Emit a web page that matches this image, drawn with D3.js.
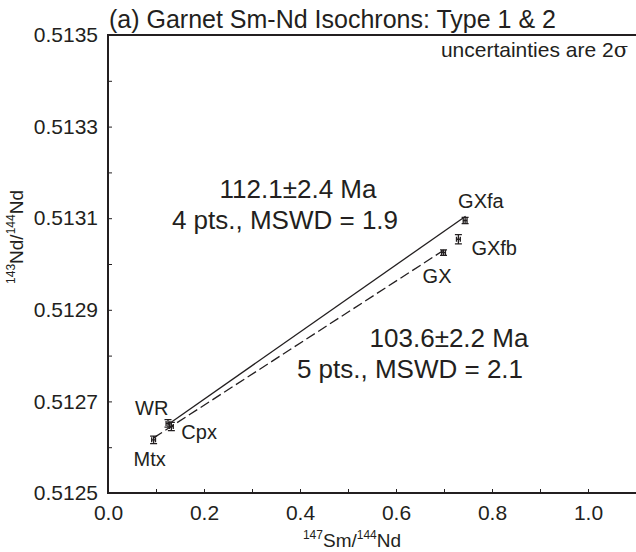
<!DOCTYPE html>
<html>
<head>
<meta charset="utf-8">
<script src="https://cdn.jsdelivr.net/npm/d3@7"></script>
<style>
  body { margin: 0; background: #fff; }
  text { font-family: "Liberation Sans", Arial, sans-serif; fill: #231f20; }
</style>
</head>
<body>
<div id="chart-area"></div>
<script>
// fractions measured on the garnet sample
var names = ["Mtx", "WR", "Cpx", "GX", "GXfb", "GXfa"];
var smNd  = [0.095, 0.125, 0.132, 0.699, 0.730, 0.744];
var ndNd  = [0.512616, 0.512652, 0.512645, 0.513025, 0.513054, 0.513095];
var errX  = [0.004, 0.004, 0.004, 0.004, 0.004, 0.004];
var errY  = [0.000008, 0.000008, 0.000009, 0.000006, 0.000010, 0.000007];

// isochron fits (solid = type 1, dashed = type 2)
var isoAge   = [112.1, 103.6];
var isoErr   = [2.4, 2.2];
var isoPts   = [4, 5];
var isoMswd  = [1.9, 2.1];
var isoInit  = [0.512558, 0.512556];
var isoFrom  = [0.125, 0.095];
var isoTo    = [0.745, 0.700];

var xTicks = [0.0, 0.2, 0.4, 0.6, 0.8, 1.0];
var xMinor = [0.1, 0.3, 0.5, 0.7, 0.9, 1.1];
var yTicks = [0.5125, 0.5127, 0.5129, 0.5131, 0.5133, 0.5135];
var yMinor = [0.5126, 0.5128, 0.5130, 0.5132, 0.5134];

var lambda = 6.54e-12; // 147Sm decay constant, 1/yr

var width = 636, height = 552;
var margin = { left: 108, top: 35, bottom: 59 };

var svg = d3.select("#chart-area")
    .append("svg")
    .attr("width", width)
    .attr("height", height);

var x = d3.scaleLinear().domain([0, 1.2]).range([margin.left, margin.left + 576]);
var y = d3.scaleLinear().domain([0.5125, 0.5135]).range([height - margin.bottom, margin.top]);

// axes with inward ticks
var xAxis = d3.axisBottom(x).tickValues(xTicks.concat(xMinor))
    .tickSize(-4).tickPadding(12)
    .tickFormat(function(d) { return xTicks.indexOf(d) >= 0 ? d3.format(".1f")(d) : ""; });
var yAxis = d3.axisLeft(y).tickValues(yTicks.concat(yMinor))
    .tickSize(-4).tickPadding(10)
    .tickFormat(function(d) { return yTicks.indexOf(d) >= 0 ? d3.format(".4f")(d) : ""; });

var gx = svg.append("g").attr("transform", "translate(0," + y(0.5125) + ")").call(xAxis);
var gy = svg.append("g").attr("transform", "translate(" + x(0) + ",0)").call(yAxis);
[gx, gy].forEach(function(g) {
    g.select(".domain").remove();
    g.selectAll(".tick line").attr("stroke", "#231f20").attr("stroke-width", 1);
    g.selectAll(".tick text").attr("font-size", 21).attr("fill", "#231f20")
        .style("font-family", "'Liberation Sans', Arial, sans-serif");
});

// frame: left, bottom, top
svg.append("path")
    .attr("d", "M" + x(1.2) + "," + y(0.5135) + "H" + x(0) + "V" + y(0.5125) + "H" + x(1.2))
    .attr("fill", "none").attr("stroke", "#231f20").attr("stroke-width", 2);

// isochron lines
isoAge.forEach(function(age, i) {
    var slope = Math.expm1(lambda * age * 1e6);
    svg.append("line")
        .attr("x1", x(isoFrom[i])).attr("y1", y(isoInit[i] + slope * isoFrom[i]))
        .attr("x2", x(isoTo[i])).attr("y2", y(isoInit[i] + slope * isoTo[i]))
        .attr("stroke", "#231f20").attr("stroke-width", 1.3)
        .attr("stroke-dasharray", i === 1 ? "10,4" : null);
});

// error bars
var pts = names.map(function(n, i) {
    return { name: n, x: smNd[i], y: ndNd[i], ex: errX[i], ey: errY[i] };
});
svg.append("g").attr("stroke", "#231f20").attr("stroke-width", 1.3).attr("fill", "none")
    .selectAll("path").data(pts).enter().append("path")
    .attr("d", function(d) {
        var cx = x(d.x), cy = y(d.y);
        var y0 = y(d.y - d.ey), y1 = y(d.y + d.ey);
        var x0 = x(d.x - d.ex), x1 = x(d.x + d.ex);
        return "M" + cx + "," + y0 + "V" + y1 +
            "M" + (cx - 3.5) + "," + y0 + "h7" +
            "M" + (cx - 3.5) + "," + y1 + "h7" +
            "M" + x0 + "," + cy + "H" + x1 +
            "M" + x0 + "," + (cy - 2.5) + "v5" +
            "M" + x1 + "," + (cy - 2.5) + "v5";
    });

// point labels
var labelPos = {
    Mtx:  { dx: -20, dy: 26, anchor: "start" },
    WR:   { dx: -33, dy: -8, anchor: "start" },
    Cpx:  { dx: 10, dy: 12, anchor: "start" },
    GX:   { dx: 8, dy: 30, anchor: "end" },
    GXfb: { dx: 13, dy: 16, anchor: "start" },
    GXfa: { dx: -7, dy: -12, anchor: "start" }
};
svg.append("g").selectAll("text").data(pts).enter().append("text")
    .attr("x", function(d) { return x(d.x) + labelPos[d.name].dx; })
    .attr("y", function(d) { return y(d.y) + labelPos[d.name].dy; })
    .attr("text-anchor", function(d) { return labelPos[d.name].anchor; })
    .attr("font-size", 20)
    .text(function(d) { return d.name; });

// age annotations
var ageAt = [[298, 198, 285], [449, 347, 410]];
isoAge.forEach(function(age, i) {
    var t = svg.append("text").attr("text-anchor", "middle").attr("font-size", 26);
    t.append("tspan").attr("x", ageAt[i][0]).attr("y", ageAt[i][1])
        .text(age.toFixed(1) + "\u00b1" + isoErr[i].toFixed(1) + " Ma");
    t.append("tspan").attr("x", ageAt[i][2]).attr("dy", 31)
        .text(isoPts[i] + " pts., MSWD = " + isoMswd[i].toFixed(1));
});

// title and notes
svg.append("text").attr("x", 109).attr("y", 28).attr("font-size", 25)
    .text("(a) Garnet Sm-Nd Isochrons: Type 1 & 2");
var unc = svg.append("text").attr("x", 628).attr("y", 57).attr("text-anchor", "end").attr("font-size", 21)
    .text("uncertainties are 2");
unc.append("tspan").style("font-family", "'DejaVu Serif', serif").text("\u03c3");

// axis titles
var xt = svg.append("text").attr("x", 352).attr("y", 547).attr("text-anchor", "middle").attr("font-size", 19);
xt.append("tspan").attr("font-size", 12).attr("dy", -8).text("147");
xt.append("tspan").attr("dy", 8).text("Sm/");
xt.append("tspan").attr("font-size", 12).attr("dy", -8).text("144");
xt.append("tspan").attr("dy", 8).text("Nd");

var yt = svg.append("text").attr("transform", "translate(23,237) rotate(-90)")
    .attr("text-anchor", "middle").attr("font-size", 19);
yt.append("tspan").attr("font-size", 12).attr("dy", -8).text("143");
yt.append("tspan").attr("dy", 8).text("Nd/");
yt.append("tspan").attr("font-size", 12).attr("dy", -8).text("144");
yt.append("tspan").attr("dy", 8).text("Nd");
</script>
</body>
</html>
